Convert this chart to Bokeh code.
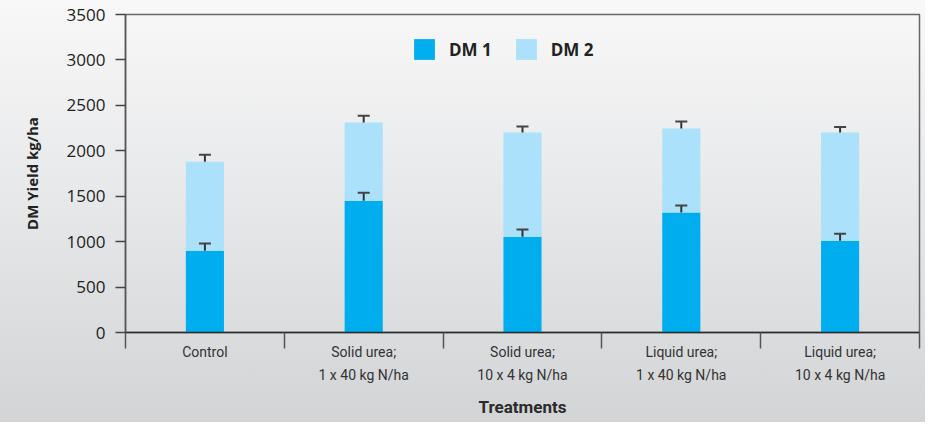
from bokeh.plotting import figure
from bokeh.models import (ColumnDataSource, FixedTicker, Whisker, TeeHead, Legend, LegendItem, Range1d)
from bokeh.embed import file_html
from bokeh.resources import INLINE

categories = ["Control", "Solid urea;\n1 x 40 kg N/ha", "Solid urea;\n10 x 4 kg N/ha",
              "Liquid urea;\n1 x 40 kg N/ha", "Liquid urea;\n10 x 4 kg N/ha"]
dm1 = [900, 1450, 1055, 1320, 1010]
dm2 = [980, 860, 1145, 925, 1190]
err_dm1 = [80, 88, 80, 77, 78]
err_total = [77, 75, 67, 77, 63]
y_ticks = [0, 500, 1000, 1500, 2000, 2500, 3000, 3500]

xpos = [i + 0.5 for i in range(len(categories))]
total = [a + b for a, b in zip(dm1, dm2)]

src = ColumnDataSource(dict(
    x=xpos, dm1=dm1, total=total,
    dm1_up=[a + e for a, e in zip(dm1, err_dm1)],
    tot_up=[t + e for t, e in zip(total, err_total)],
))

p = figure(width=925, height=422, output_backend="svg", toolbar_location=None,
           x_range=Range1d(0, len(categories)), y_range=Range1d(0, 3500),
           min_border_left=125, min_border_right=6, min_border_top=14, min_border_bottom=90)
p.styles = {"background": "linear-gradient(to bottom, #f8f8f8 0%, #e6e7e9 50%, #d3d4d6 100%)"}
p.background_fill_alpha = 0
p.border_fill_alpha = 0
p.outline_line_color = "#666666"
p.outline_line_width = 1.5
p.xgrid.visible = False
p.ygrid.visible = False

r1 = p.vbar(x="x", bottom=0, top="dm1", width=0.24, source=src, color="#00aeef", line_color=None)
r2 = p.vbar(x="x", bottom="dm1", top="total", width=0.24, source=src, color="#abe1fa", line_color=None)

for lo, up in (("dm1", "dm1_up"), ("total", "tot_up")):
    w = Whisker(source=src, base="x", lower=lo, upper=up, dimension="height",
                line_color="#333333", line_width=2, level="overlay",
                upper_head=TeeHead(size=12, line_color="#444444", line_width=2), lower_head=None)
    p.add_layout(w)

# x axis
xa = p.xaxis[0]
xa.ticker = FixedTicker(ticks=xpos, minor_ticks=list(range(len(categories) + 1)))
xa.major_label_overrides = {x: c for x, c in zip(xpos, categories)}
xa.major_tick_out = 0
xa.major_tick_in = 0
xa.minor_tick_out = 16
xa.minor_tick_in = 0
xa.minor_tick_line_color = "#555555"
xa.minor_tick_line_width = 1.5
xa.axis_line_color = "#2b2b2b"
xa.axis_line_width = 1.5
xa.major_label_standoff = -5
xa.major_label_text_font = "Roboto"
xa.major_label_text_font_size = "14px"
xa.major_label_text_color = "#333333"
xa.major_label_text_line_height = 1.45
xa.axis_label = "Treatments"
xa.axis_label_text_font = "Roboto"
xa.axis_label_text_font_style = "bold"
xa.axis_label_text_font_size = "17px"
xa.axis_label_text_color = "#2b2b2b"
xa.axis_label_standoff = 11

# y axis
ya = p.yaxis[0]
ya.ticker = FixedTicker(ticks=y_ticks)
ya.minor_tick_line_color = None
ya.major_tick_out = 10
ya.major_tick_in = 0
ya.major_tick_line_color = "#444444"
ya.major_tick_line_width = 1.5
ya.axis_line_color = "#555555"
ya.axis_line_width = 1.5
ya.major_label_standoff = 10
ya.major_label_text_font = "Open Sans"
ya.major_label_text_font_size = "17px"
ya.major_label_text_color = "#222222"
ya.axis_label = "DM Yield kg/ha"
ya.axis_label_text_font = "Open Sans"
ya.axis_label_text_font_style = "bold"
ya.axis_label_text_font_size = "15px"
ya.axis_label_text_color = "#222222"
ya.axis_label_standoff = 22

legend = Legend(items=[LegendItem(label="DM 1", renderers=[r1]), LegendItem(label="DM 2", renderers=[r2])],
                orientation="horizontal", location=(286, 270),
                glyph_width=26, glyph_height=26, label_standoff=12, spacing=21,
                padding=0, margin=0, border_line_color=None, background_fill_alpha=0,
                label_text_font="Open Sans", label_text_font_style="bold",
                label_text_font_size="17px", label_text_color="#222222")
p.add_layout(legend, "center")

open("out.html", "w").write(file_html(p, INLINE))
